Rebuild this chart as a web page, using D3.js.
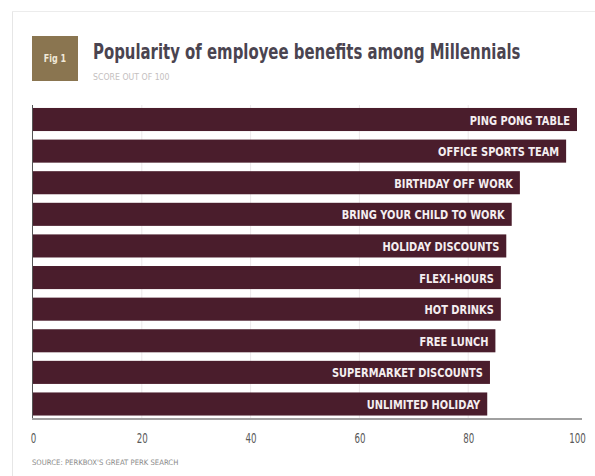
<!DOCTYPE html>
<html><head><meta charset="utf-8">
<script src="https://cdn.jsdelivr.net/npm/d3@7"></script>
<style>
body{margin:0;background:#fff;}
svg{display:block;}
text{font-family:"DejaVu Sans",sans-serif;}
</style></head>
<body>
<svg id="chart" width="595" height="476"></svg>
<script>
const categories = ["PING PONG TABLE","OFFICE SPORTS TEAM","BIRTHDAY OFF WORK","BRING YOUR CHILD TO WORK","HOLIDAY DISCOUNTS","FLEXI-HOURS","HOT DRINKS","FREE LUNCH","SUPERMARKET DISCOUNTS","UNLIMITED HOLIDAY"];
const values = [100, 98, 89.5, 88, 87, 86, 86, 85, 84, 83.5];
const tickValues = [0, 20, 40, 60, 80, 100];
const title = "Popularity of employee benefits among Millennials";
const subtitle = "SCORE OUT OF 100";
const source = "SOURCE: PERKBOX'S GREAT PERK SEARCH";

const svg = d3.select("#chart");
// faint page border
svg.append("line").attr("x1",12.5).attr("x2",12.5).attr("y1",11).attr("y2",476).attr("stroke","#e6e6e6");
svg.append("line").attr("x1",12).attr("x2",595).attr("y1",11.5).attr("y2",11.5).attr("stroke","#ececec");

const x = d3.scaleLinear().domain([0,100]).range([33,577]);
const y = d3.scaleBand().domain(categories).range([103.7,419.8]).paddingInner(0.27).paddingOuter(0.135);

// condensed text helper: place text at (px,py) and squeeze horizontally
function squeezed(g, px, py, s){
  return g.append("text").attr("transform",`translate(${px},${py}) scale(${s},1)`);
}

// fig box
svg.append("rect").attr("x",32).attr("y",36).attr("width",46).attr("height",45).attr("fill","#8a7550");
squeezed(svg,55,62,0.8).attr("text-anchor","middle").attr("font-size",10).attr("font-weight","bold").attr("fill","#f1e9d8").text("Fig 1");

squeezed(svg,93,59,0.71).attr("font-size",21).attr("fill","#4a4450").attr("font-weight","bold").text(title);
squeezed(svg,93,80,0.92).attr("font-size",8.5).attr("fill","#c4c0c0").text(subtitle);

// faint gridlines
svg.append("g").selectAll("line").data(tickValues.slice(1,5)).join("line")
  .attr("x1",d=>x(d)).attr("x2",d=>x(d)).attr("y1",105).attr("y2",418)
  .attr("stroke","#ece8ea").attr("stroke-width",1);

// bars
svg.append("g").selectAll("rect").data(categories).join("rect")
  .attr("x",x(0)).attr("y",d=>y(d))
  .attr("width",(d,i)=>x(values[i])-x(0)).attr("height",y.bandwidth())
  .attr("fill","#4a1d2c");

svg.append("g").selectAll("text").data(categories).join("text")
  .attr("transform",(d,i)=>`translate(${x(values[i])-7},${y(d)+y.bandwidth()/2+5}) scale(0.76,1)`)
  .attr("text-anchor","end").attr("font-size",13).attr("font-weight","bold")
  .attr("fill","#f4eef0").text(d=>d);

// vertical axis line
svg.append("line").attr("x1",32.5).attr("x2",32.5).attr("y1",105).attr("y2",419).attr("stroke","#555").attr("stroke-width",1);

// bottom axis
const xAxis = d3.axisBottom(x).tickValues(tickValues).tickSize(0).tickPadding(0).tickFormat(d3.format("d"));
const gx = svg.append("g").attr("transform","translate(0,419)").call(xAxis);
gx.select(".domain").remove();
gx.selectAll("text").attr("font-size",14).attr("fill","#5a5a5a").attr("font-family",null)
  .attr("dy",null).attr("y",null).attr("transform","translate(0,24) scale(0.62,1)");
svg.append("line").attr("x1",32).attr("x2",582).attr("y1",419).attr("y2",419).attr("stroke","#a0a0a0").attr("stroke-width",2);

squeezed(svg,32,465,0.92).attr("font-size",7.5).attr("fill","#8a8a8a").text(source);
</script>
</body></html>
